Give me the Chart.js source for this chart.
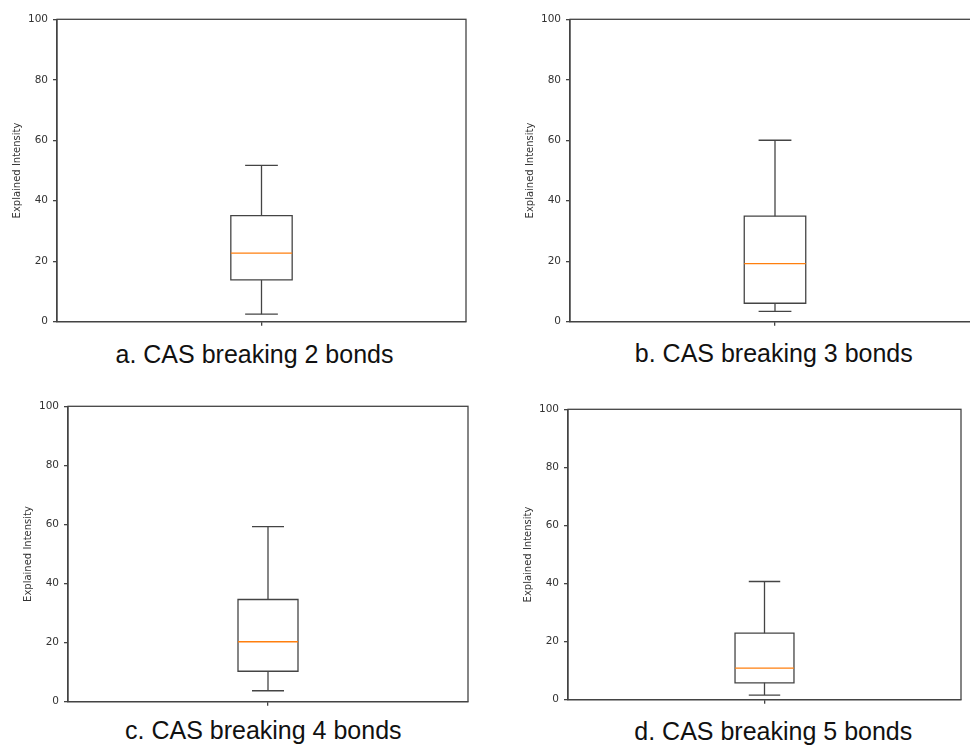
<!DOCTYPE html>
<html>
<head>
<meta charset="utf-8">
<script src="https://cdn.jsdelivr.net/npm/chart.js@4.4.0/dist/chart.umd.min.js"></script>
<style>
  html, body { margin: 0; padding: 0; background: #fff; overflow: hidden; width: 970px; height: 747px; }
  .panel { position: absolute; }
  .caption {
    position: absolute; width: 400px; text-align: center; white-space: nowrap;
    font-family: "Liberation Sans", Arial, sans-serif; font-size: 25px; line-height: 30px; color: #111;
  }
</style>
</head>
<body>
<script>
// --- Data (one box per panel) ---
const captions = [
  "a. CAS breaking 2 bonds",
  "b. CAS breaking 3 bonds",
  "c. CAS breaking 4 bonds",
  "d. CAS breaking 5 bonds"
];
const whiskerLow  = [2.5, 3.4, 3.7, 1.6];
const quartile1   = [13.8, 6.1, 10.3, 5.8];
const medians     = [22.7, 19.2, 20.3, 10.9];
const quartile3   = [35.1, 34.9, 34.6, 22.9];
const whiskerHigh = [51.7, 60.0, 59.3, 40.7];
const yTicks = [0, 20, 40, 60, 80, 100];
const yLabel = "Explained Intensity";

// --- Layout: plot area of each panel in page pixels + caption centre ---
const frames = [
  { l: 57,  t: 18,  r: 466, b: 323, cx: 254.5, cy: 356 },
  { l: 570, t: 18,  r: 980, b: 323, cx: 773.8, cy: 355 },
  { l: 68,  t: 405, r: 468, b: 703, cx: 263.3, cy: 732 },
  { l: 568, t: 408, r: 961, b: 701, cx: 773.3, cy: 732.5 }
];

const AXIS_W = 46, AXIS_H = 10, PAD_T = 10, PAD_R = 4;
const POS = 1, BOX_HALF = 0.075, CAP_HALF = 0.04;
const LINE = "#444";
const ORANGE = "#ff7f0e";
const LW = 1.3;

// top + right spines (matplotlib style frame)
const framePlugin = {
  id: "frame",
  afterDraw(chart) {
    const { ctx, chartArea: a } = chart;
    ctx.save();
    ctx.strokeStyle = LINE;
    ctx.lineWidth = LW;
    ctx.strokeRect(a.left, a.top, a.right - a.left, a.bottom - a.top);
    ctx.restore();
  }
};

function seg(data, color) {
  return {
    data, borderColor: color, borderWidth: LW, showLine: true,
    pointRadius: 0, fill: false, tension: 0, borderJoinStyle: "miter"
  };
}

function boxDatasets(i) {
  const lo = POS - BOX_HALF, hi = POS + BOX_HALF;
  return [
    // first dataset is drawn on top
    seg([{ x: lo, y: medians[i] }, { x: hi, y: medians[i] }], ORANGE),
    seg([{ x: POS, y: quartile1[i] }, { x: hi, y: quartile1[i] }, { x: hi, y: quartile3[i] },
         { x: lo, y: quartile3[i] }, { x: lo, y: quartile1[i] }, { x: POS, y: quartile1[i] }], LINE),
    seg([{ x: POS, y: quartile3[i] }, { x: POS, y: whiskerHigh[i] }], LINE),
    seg([{ x: POS - CAP_HALF, y: whiskerHigh[i] }, { x: POS + CAP_HALF, y: whiskerHigh[i] }], LINE),
    seg([{ x: POS, y: quartile1[i] }, { x: POS, y: whiskerLow[i] }], LINE),
    seg([{ x: POS - CAP_HALF, y: whiskerLow[i] }, { x: POS + CAP_HALF, y: whiskerLow[i] }], LINE)
  ];
}

frames.forEach((f, i) => {
  const wrap = document.createElement("div");
  wrap.className = "panel";
  wrap.style.left = (f.l - AXIS_W) + "px";
  wrap.style.top = (f.t - PAD_T) + "px";
  const canvas = document.createElement("canvas");
  canvas.width = AXIS_W + (f.r - f.l) + PAD_R;
  canvas.height = PAD_T + (f.b - f.t) + AXIS_H;
  wrap.appendChild(canvas);
  document.body.appendChild(wrap);

  const cap = document.createElement("div");
  cap.className = "caption";
  cap.textContent = captions[i];
  cap.style.left = (f.cx - 200) + "px";
  cap.style.top = (f.cy - 17) + "px";
  document.body.appendChild(cap);

  new Chart(canvas.getContext("2d"), {
    type: "scatter",
    data: { datasets: boxDatasets(i) },
    options: {
      responsive: false,
      animation: false,
      events: [],
      layout: { padding: { top: PAD_T, right: PAD_R, left: 0, bottom: 0 } },
      plugins: { legend: { display: false }, tooltip: { enabled: false } },
      scales: {
        x: {
          type: "linear", min: 0.5, max: 1.5,
          afterBuildTicks: s => { s.ticks = [{ value: POS }]; },
          afterFit: s => { s.height = AXIS_H; },
          ticks: { display: false },
          grid: { drawOnChartArea: false, color: LINE, lineWidth: LW, tickLength: 4 },
          border: { color: LINE, width: LW }
        },
        y: {
          type: "linear", min: 0, max: 100,
          afterBuildTicks: s => { s.ticks = yTicks.map(v => ({ value: v })); },
          afterFit: s => { s.width = AXIS_W; },
          ticks: { color: "#333", padding: 5, font: { family: "DejaVu Sans", size: 10.5 } },
          grid: { drawOnChartArea: false, color: LINE, lineWidth: LW, tickLength: 4 },
          border: { color: LINE, width: LW },
          title: {
            display: true, text: yLabel, color: "#333", padding: 0,
            font: { family: "DejaVu Sans", size: 10 }
          }
        }
      }
    },
    plugins: [framePlugin]
  });
});
</script>
</body>
</html>
